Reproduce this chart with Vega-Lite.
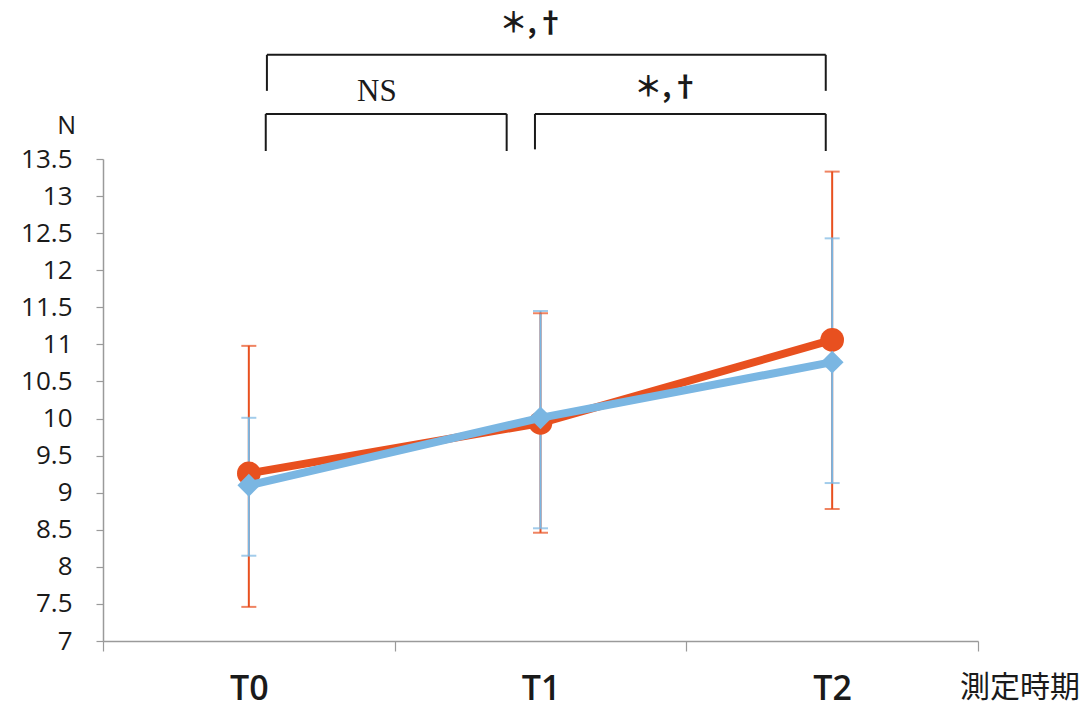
{
  "$schema": "https://vega.github.io/schema/vega-lite/v6.json",
  "width": 875,
  "height": 482,
  "autosize": {"type": "none"},
  "padding": {"left": 103, "top": 159, "right": 113, "bottom": 67},
  "background": "white",
  "config": {
    "view": {"stroke": null},
    "axis": {"grid": false},
    "axisY": {
      "labelOverlap": false, "labelFlush": false, "labelBound": false,
      "labelFont": "Open Sans", "labelFontSize": 26, "labelColor": "#1a1a1a",
      "labelPadding": 24, "tickSize": 7, "tickColor": "#9a9a9a", "tickWidth": 1.2,
      "domainColor": "#9a9a9a", "domainWidth": 1.5
    }
  },
  "datasets": {
    "stats": [
      {"series": "A", "time": 0, "mean": 9.26, "lo": 7.46, "hi": 10.98},
      {"series": "A", "time": 1, "mean": 9.94, "lo": 8.46, "hi": 11.42},
      {"series": "A", "time": 2, "mean": 11.06, "lo": 8.78, "hi": 13.33},
      {"series": "B", "time": 0, "mean": 9.10, "lo": 8.15, "hi": 10.01},
      {"series": "B", "time": 1, "mean": 10.01, "lo": 8.52, "hi": 11.45},
      {"series": "B", "time": 2, "mean": 10.76, "lo": 9.13, "hi": 12.43}
    ],
    "brackets": [
      {"x": 0.058, "x2": 0.884, "y": 14.108, "y2": 14.108},
      {"x": 0.058, "x2": 0.058, "y": 14.108, "y2": 13.608},
      {"x": 0.884, "x2": 0.884, "y": 14.108, "y2": 13.608},
      {"x": 0.981, "x2": 1.978, "y": 14.108, "y2": 14.108},
      {"x": 0.981, "x2": 0.981, "y": 14.108, "y2": 13.63},
      {"x": 1.978, "x2": 1.978, "y": 14.108, "y2": 13.608},
      {"x": 0.062, "x2": 1.978, "y": 14.905, "y2": 14.905},
      {"x": 0.062, "x2": 0.062, "y": 14.905, "y2": 14.419},
      {"x": 1.978, "x2": 1.978, "y": 14.905, "y2": 14.419}
    ],
    "sig": [
      {"label": "＊,†", "x": 1.433, "y": 14.336},
      {"label": "＊,†", "x": 0.971, "y": 15.2}
    ],
    "ns": [{"label": "NS", "x": 0.439, "y": 14.404}],
    "xtitle": [{"label": "測定時期", "x": 2.644, "y": 6.366}],
    "ytitle": [{"label": "N", "x": -0.625, "y": 13.95}]
  },
  "layer": [
    {
      "data": {"name": "stats"},
      "mark": {"type": "rule", "strokeWidth": 2},
      "encoding": {
        "x": {"field": "time", "type": "quantitative", "scale": {"domain": [-0.5, 2.5], "nice": false, "zero": false},
          "axis": {
            "values": [-0.5, 0, 0.5, 1, 1.5, 2, 2.5],
            "labelExpr": "datum.value === 0 ? 'T0' : datum.value === 1 ? 'T1' : datum.value === 2 ? 'T2' : ''",
            "labelOverlap": false, "labelFlush": false, "labelBound": false,
            "labelFont": "Open Sans", "labelFontSize": 34, "labelFontWeight": 600, "labelColor": "#1a1a1a",
            "labelPadding": 21, "labelBaseline": "top",
            "tickSize": 10, "tickColor": "#9a9a9a", "tickWidth": 1.2,
            "tickOpacity": {"condition": {"test": "datum.value % 1 === 0", "value": 0}, "value": 1},
            "domainColor": "#9a9a9a", "domainWidth": 1.5,
            "title": null
          }},
        "y": {"field": "lo", "type": "quantitative", "scale": {"domain": [7, 13.5], "nice": false, "zero": false},
          "axis": {"values": [7, 7.5, 8, 8.5, 9, 9.5, 10, 10.5, 11, 11.5, 12, 12.5, 13, 13.5], "format": "~g", "title": null}},
        "y2": {"field": "hi"},
        "color": {"field": "series", "type": "nominal", "scale": {"domain": ["A", "B"], "range": ["#e8501f", "#7ab6e2"]}, "legend": null},
        "order": {"field": "series"}
      }
    },
    {
      "data": {"name": "stats"},
      "transform": [{"fold": ["lo", "hi"], "as": ["end", "val"]}],
      "mark": {"type": "tick", "orient": "horizontal", "size": 15, "thickness": 2},
      "encoding": {
        "x": {"field": "time", "type": "quantitative", "scale": {"domain": [-0.5, 2.5], "nice": false, "zero": false}},
        "y": {"field": "val", "type": "quantitative", "scale": {"domain": [7, 13.5], "nice": false, "zero": false},
          "axis": {"values": [7, 7.5, 8, 8.5, 9, 9.5, 10, 10.5, 11, 11.5, 12, 12.5, 13, 13.5], "format": "~g", "title": null}},
        "color": {"field": "series", "type": "nominal", "scale": {"domain": ["A", "B"], "range": ["#e8501f", "#7ab6e2"]}, "legend": null},
        "order": {"field": "series"}
      }
    },
    {
      "data": {"name": "stats"},
      "transform": [{"filter": "datum.series === 'A'"}],
      "mark": {"type": "line", "strokeWidth": 8, "color": "#e8501f"},
      "encoding": {
        "x": {"field": "time", "type": "quantitative", "scale": {"domain": [-0.5, 2.5], "nice": false, "zero": false}},
        "y": {"field": "mean", "type": "quantitative", "scale": {"domain": [7, 13.5], "nice": false, "zero": false},
          "axis": {"values": [7, 7.5, 8, 8.5, 9, 9.5, 10, 10.5, 11, 11.5, 12, 12.5, 13, 13.5], "format": "~g", "title": null}}
      }
    },
    {
      "data": {"name": "stats"},
      "transform": [{"filter": "datum.series === 'A'"}],
      "mark": {"type": "point", "shape": "circle", "filled": true, "opacity": 1, "size": 560, "color": "#e8501f"},
      "encoding": {
        "x": {"field": "time", "type": "quantitative", "scale": {"domain": [-0.5, 2.5], "nice": false, "zero": false}},
        "y": {"field": "mean", "type": "quantitative", "scale": {"domain": [7, 13.5], "nice": false, "zero": false},
          "axis": {"values": [7, 7.5, 8, 8.5, 9, 9.5, 10, 10.5, 11, 11.5, 12, 12.5, 13, 13.5], "format": "~g", "title": null}}
      }
    },
    {
      "data": {"name": "stats"},
      "transform": [{"filter": "datum.series === 'B'"}],
      "mark": {"type": "line", "strokeWidth": 8, "color": "#7ab6e2"},
      "encoding": {
        "x": {"field": "time", "type": "quantitative", "scale": {"domain": [-0.5, 2.5], "nice": false, "zero": false}},
        "y": {"field": "mean", "type": "quantitative", "scale": {"domain": [7, 13.5], "nice": false, "zero": false},
          "axis": {"values": [7, 7.5, 8, 8.5, 9, 9.5, 10, 10.5, 11, 11.5, 12, 12.5, 13, 13.5], "format": "~g", "title": null}}
      }
    },
    {
      "data": {"name": "stats"},
      "transform": [{"filter": "datum.series === 'B'"}],
      "mark": {"type": "point", "shape": "diamond", "filled": true, "opacity": 1, "size": 520, "color": "#7ab6e2"},
      "encoding": {
        "x": {"field": "time", "type": "quantitative", "scale": {"domain": [-0.5, 2.5], "nice": false, "zero": false}},
        "y": {"field": "mean", "type": "quantitative", "scale": {"domain": [7, 13.5], "nice": false, "zero": false},
          "axis": {"values": [7, 7.5, 8, 8.5, 9, 9.5, 10, 10.5, 11, 11.5, 12, 12.5, 13, 13.5], "format": "~g", "title": null}}
      }
    },
    {
      "data": {"name": "brackets"},
      "mark": {"type": "rule", "strokeWidth": 2, "color": "#1a1a1a", "clip": false},
      "encoding": {
        "x": {"field": "x", "type": "quantitative", "scale": {"domain": [-0.5, 2.5], "nice": false, "zero": false}},
        "x2": {"field": "x2"},
        "y": {"field": "y", "type": "quantitative", "scale": {"domain": [7, 13.5], "nice": false, "zero": false},
          "axis": {"values": [7, 7.5, 8, 8.5, 9, 9.5, 10, 10.5, 11, 11.5, 12, 12.5, 13, 13.5], "format": "~g", "title": null}},
        "y2": {"field": "y2"}
      }
    },
    {
      "data": {"name": "sig"},
      "mark": {"type": "text", "font": "Noto Sans CJK JP", "fontSize": 28, "fontWeight": "bold", "color": "#1a1a1a", "baseline": "alphabetic", "align": "center", "clip": false},
      "encoding": {
        "x": {"field": "x", "type": "quantitative", "scale": {"domain": [-0.5, 2.5], "nice": false, "zero": false}},
        "y": {"field": "y", "type": "quantitative", "scale": {"domain": [7, 13.5], "nice": false, "zero": false},
          "axis": {"values": [7, 7.5, 8, 8.5, 9, 9.5, 10, 10.5, 11, 11.5, 12, 12.5, 13, 13.5], "format": "~g", "title": null}},
        "text": {"field": "label"}
      }
    },
    {
      "data": {"name": "ns"},
      "mark": {"type": "text", "font": "Liberation Serif", "fontSize": 31, "color": "#1a1a1a", "baseline": "middle", "align": "center", "clip": false},
      "encoding": {
        "x": {"field": "x", "type": "quantitative", "scale": {"domain": [-0.5, 2.5], "nice": false, "zero": false}},
        "y": {"field": "y", "type": "quantitative", "scale": {"domain": [7, 13.5], "nice": false, "zero": false},
          "axis": {"values": [7, 7.5, 8, 8.5, 9, 9.5, 10, 10.5, 11, 11.5, 12, 12.5, 13, 13.5], "format": "~g", "title": null}},
        "text": {"field": "label"}
      }
    },
    {
      "data": {"name": "xtitle"},
      "mark": {"type": "text", "font": "Noto Sans CJK JP", "fontSize": 30, "color": "#1a1a1a", "baseline": "middle", "align": "center", "clip": false},
      "encoding": {
        "x": {"field": "x", "type": "quantitative", "scale": {"domain": [-0.5, 2.5], "nice": false, "zero": false}},
        "y": {"field": "y", "type": "quantitative", "scale": {"domain": [7, 13.5], "nice": false, "zero": false},
          "axis": {"values": [7, 7.5, 8, 8.5, 9, 9.5, 10, 10.5, 11, 11.5, 12, 12.5, 13, 13.5], "format": "~g", "title": null}},
        "text": {"field": "label"}
      }
    },
    {
      "data": {"name": "ytitle"},
      "mark": {"type": "text", "font": "Open Sans", "fontSize": 25, "color": "#1a1a1a", "baseline": "middle", "align": "center", "clip": false},
      "encoding": {
        "x": {"field": "x", "type": "quantitative", "scale": {"domain": [-0.5, 2.5], "nice": false, "zero": false}},
        "y": {"field": "y", "type": "quantitative", "scale": {"domain": [7, 13.5], "nice": false, "zero": false},
          "axis": {"values": [7, 7.5, 8, 8.5, 9, 9.5, 10, 10.5, 11, 11.5, 12, 12.5, 13, 13.5], "format": "~g", "title": null}},
        "text": {"field": "label"}
      }
    }
  ]
}
